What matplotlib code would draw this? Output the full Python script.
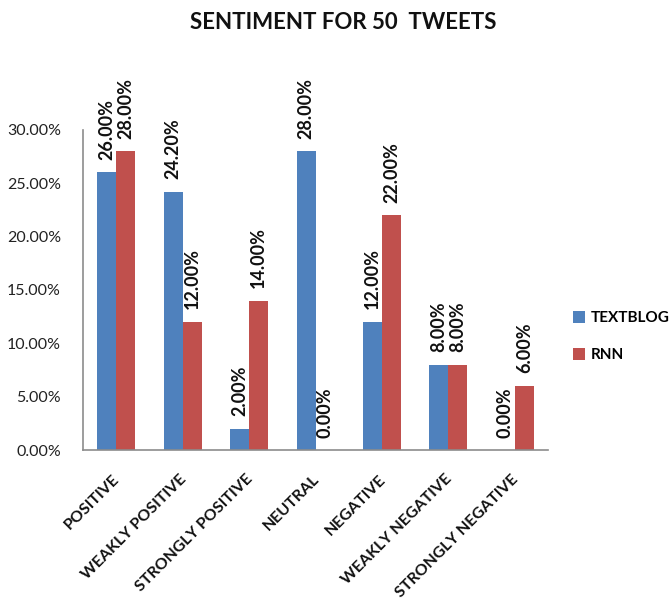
import numpy as np
import matplotlib
matplotlib.use("Agg")
from matplotlib import pyplot as plt
from matplotlib.transforms import ScaledTranslation

categories = ["POSITIVE", "WEAKLY POSITIVE", "STRONGLY POSITIVE", "NEUTRAL",
              "NEGATIVE", "WEAKLY NEGATIVE", "STRONGLY NEGATIVE"]
textblog = [26.0, 24.2, 2.0, 28.0, 12.0, 8.0, 0.0]
rnn = [28.0, 12.0, 14.0, 0.0, 22.0, 8.0, 6.0]
yticks = [0, 5, 10, 15, 20, 25, 30]

plt.rcParams['font.family'] = ['Lato', 'DejaVu Sans']

fig = plt.figure(figsize=(6.7, 6.09), dpi=100)
ax = fig.add_axes([0.124, 0.261, 0.694, 0.526])

x = np.arange(len(categories))
w = 0.286
b1 = ax.bar(x - w / 2, textblog, w, color="#4F81BD", label="TEXTBLOG")
b2 = ax.bar(x + w / 2, rnn, w, color="#C0504D", label="RNN")

# étiquettes verticales au-dessus des barres
for bars, vals in ((b1, textblog), (b2, rnn)):
    for r, v in zip(bars, vals):
        ax.annotate(f"{v:.2f}%", (r.get_x() + r.get_width() / 2, v),
                    xytext=(0, 9), textcoords="offset points",
                    rotation=90, ha="center", va="bottom",
                    fontsize=13, fontweight="bold", color="#111111")

ax.set_xlim(-0.5, len(categories) - 0.5)
ax.set_ylim(0, 30)
ax.set_yticks(yticks)
ax.set_yticklabels([f"{t:.2f}%" for t in yticks], fontsize=11.5, color="#222222")
ax.set_xticks(x)
ax.set_xticklabels(categories, rotation=45, ha="right", fontsize=11.5,
                   fontweight="bold", color="#111111")
ax.tick_params(length=0, axis="both")
ax.tick_params(axis="y", pad=16)
ax.tick_params(axis="x", pad=16)
# on décale un peu les libellés vers la droite
shift = ScaledTranslation(6 / 100, 0, fig.dpi_scale_trans)
for lab in ax.get_xticklabels():
    lab.set_transform(lab.get_transform() + shift)

for s in ("top", "right"):
    ax.spines[s].set_visible(False)
for s in ("left", "bottom"):
    ax.spines[s].set_color("#8C8C8C")
    ax.spines[s].set_linewidth(1.2)

fig.text(0.513, 0.963, "SENTIMENT FOR 50  TWEETS", ha="center", va="center",
         fontsize=16, fontweight="bold", color="#111111")

fig.legend(handles=[b1, b2], labels=["TEXTBLOG", "RNN"],
           loc="center left", bbox_to_anchor=(0.855, 0.447), frameon=False,
           handlelength=0.8, handleheight=0.8, handletextpad=0.4,
           labelspacing=1.5, prop={"size": 11, "weight": "bold"},
           borderpad=0, borderaxespad=0)

fig.savefig("out.png", dpi=100)
